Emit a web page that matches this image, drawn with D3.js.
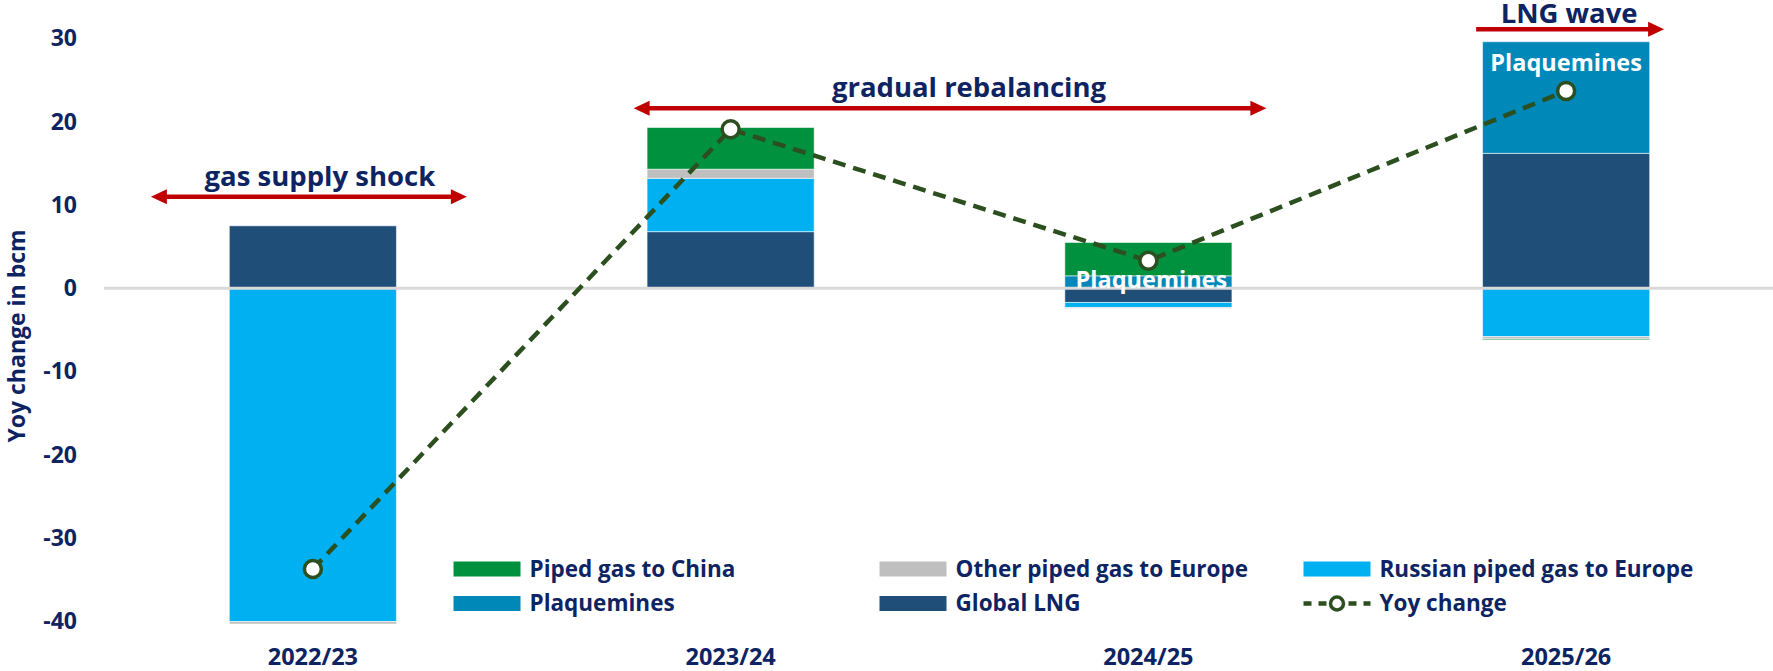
<!DOCTYPE html>
<html>
<head>
<meta charset="utf-8">
<script src="https://cdn.jsdelivr.net/npm/d3@7"></script>
<style>
  html, body { margin: 0; padding: 0; background: #ffffff; }
  svg { display: block; font-family: "Open Sans", "Noto Sans", sans-serif; font-weight: 700; }
</style>
</head>
<body>
<svg id="chart" width="1773" height="671"></svg>
<script>
// Gas year categories
const categories = ["2022/23", "2023/24", "2024/25", "2025/26"];

// Year-on-year supply changes by source, bcm
const globalLNG    = [7.5, 6.8, -1.7, 16.2];
const plaquemines  = [0, 0, 1.5, 13.4];
const russianPiped = [-40.0, 6.4, -0.6, -5.8];
const otherPiped   = [-0.3, 1.1, -0.12, -0.28];
const pipedChina   = [0, 5.0, 4.0, -0.12];

// Net year-on-year change, bcm
const yoyChange = [-33.7, 19.1, 3.3, 23.7];

// Y-axis ticks
const yTicks = [-40, -30, -20, -10, 0, 10, 20, 30];

// Series in stacking order (outward from zero)
const series = [
  { key: "Global LNG", values: globalLNG, color: "#1f4e79" },
  { key: "Plaquemines", values: plaquemines, color: "#0088b8" },
  { key: "Russian piped gas to Europe", values: russianPiped, color: "#00b0f0" },
  { key: "Other piped gas to Europe", values: otherPiped, color: "#bfbfbf" },
  { key: "Piped gas to China", values: pipedChina, color: "#00913f" }
];

// Legend layout order
const legendItems = [
  "Piped gas to China", "Other piped gas to Europe", "Russian piped gas to Europe",
  "Plaquemines", "Global LNG", "Yoy change"
];

const navy = "#0e2462";
const lineGreen = "#2c4f1f";
const arrowRed = "#c00000";

const svg = d3.select("#chart");

const x = d3.scaleBand()
  .domain(categories)
  .range([104, 1775])
  .paddingInner(0.6)
  .paddingOuter(0.3);

const y = d3.scaleLinear()
  .domain([-40, 30])
  .range([621.5, 38.4]);

// Build stacked table
const table = categories.map((c, i) => {
  const row = { cat: c };
  series.forEach(s => row[s.key] = s.values[i]);
  return row;
});
const stacked = d3.stack()
  .keys(series.map(s => s.key))
  .offset(d3.stackOffsetDiverging)(table);
const colorOf = Object.fromEntries(series.map(s => [s.key, s.color]));

// Bars
const barG = svg.append("g");
stacked.forEach(layer => {
  barG.selectAll(null)
    .data(layer)
    .join("rect")
    .attr("x", d => x(d.data.cat))
    .attr("width", x.bandwidth())
    .attr("y", d => y(Math.max(d[0], d[1])))
    .attr("height", d => Math.abs(y(d[0]) - y(d[1])))
    .attr("fill", colorOf[layer.key])
    .attr("stroke", "#ffffff")
    .attr("stroke-opacity", 0.55)
    .attr("stroke-width", 1);
});

// Zero line
svg.append("line")
  .attr("x1", x.range()[0]).attr("x2", x.range()[1])
  .attr("y1", y(0)).attr("y2", y(0))
  .attr("stroke", "#d9d9d9").attr("stroke-width", 3);

// Plaquemines segment labels
const plaqLayer = stacked.find(l => l.key === "Plaquemines");
plaqLayer.forEach(d => {
  const h = Math.abs(d[1] - d[0]);
  if (h === 0) return;
  const cx = x(d.data.cat) + x.bandwidth() / 2;
  const top = y(d[1]);
  const mid = (y(d[0]) + y(d[1])) / 2;
  svg.append("text")
    .attr("x", cx + (h > 5 ? 0 : 3))
    .attr("y", h > 5 ? top + 29 : mid + 6)
    .attr("text-anchor", "middle")
    .attr("font-size", 23.5)
    .attr("fill", "#ffffff")
    .text("Plaquemines");
});

// Y axis
const yAxis = svg.append("g")
  .attr("transform", `translate(${x.range()[0]},0)`)
  .call(d3.axisLeft(y).tickValues(yTicks).tickSize(0).tickPadding(27)
    .tickFormat(d => String(d)));
yAxis.select(".domain").remove();
yAxis.selectAll("text")
  .attr("font-family", "'Open Sans', sans-serif")
  .attr("font-weight", 700)
  .attr("font-size", 23)
  .attr("fill", navy);

// Category axis
const xAxis = svg.append("g")
  .attr("transform", `translate(0,${y(-40)})`)
  .call(d3.axisBottom(x).tickSize(0).tickPadding(0));
xAxis.select(".domain").remove();
xAxis.selectAll("text")
  .attr("y", 35)
  .attr("dy", "0.35em")
  .attr("font-family", "'Open Sans', sans-serif")
  .attr("font-weight", 700)
  .attr("font-size", 23.5)
  .attr("fill", navy);

// Y axis title
svg.append("text")
  .attr("transform", "translate(25,336) rotate(-90)")
  .attr("text-anchor", "middle")
  .attr("font-size", 23)
  .attr("fill", navy)
  .text("Yoy change in bcm");

// Yoy change line with markers
const line = d3.line()
  .x((d, i) => x(categories[i]) + x.bandwidth() / 2)
  .y(d => y(d));
svg.append("path")
  .datum(yoyChange)
  .attr("d", line)
  .attr("fill", "none")
  .attr("stroke", lineGreen)
  .attr("stroke-width", 4.5)
  .attr("stroke-dasharray", "13,8");
svg.selectAll(".yoy")
  .data(yoyChange)
  .join("circle")
  .attr("cx", (d, i) => x(categories[i]) + x.bandwidth() / 2)
  .attr("cy", d => y(d))
  .attr("r", 8.5)
  .attr("fill", "#ffffff")
  .attr("stroke", lineGreen)
  .attr("stroke-width", 3.5);

// Phase annotations with arrows
function arrow(x1, x2, yy, both) {
  const g = svg.append("g");
  const hl = 16, hw = 7.5;
  g.append("line")
    .attr("x1", both ? x1 + hl - 2 : x1).attr("x2", x2 - hl + 2)
    .attr("y1", yy).attr("y2", yy)
    .attr("stroke", arrowRed).attr("stroke-width", 4.5);
  g.append("path")
    .attr("d", `M${x2},${yy} L${x2 - hl},${yy - hw} L${x2 - hl},${yy + hw} Z`)
    .attr("fill", arrowRed);
  if (both) {
    g.append("path")
      .attr("d", `M${x1},${yy} L${x1 + hl},${yy - hw} L${x1 + hl},${yy + hw} Z`)
      .attr("fill", arrowRed);
  }
}
function caption(cx, yy, txt) {
  svg.append("text")
    .attr("x", cx).attr("y", yy)
    .attr("text-anchor", "middle")
    .attr("font-size", 27.5)
    .attr("fill", navy)
    .text(txt);
}
const cxOf = c => x(c) + x.bandwidth() / 2;

arrow(cxOf("2022/23") - 162, cxOf("2022/23") + 154, y(11.0), true);
caption(cxOf("2022/23") + 7, y(12.3), "gas supply shock");

arrow(cxOf("2023/24") - 97, cxOf("2024/25") + 118, y(21.6), true);
caption(969, y(23.0), "gradual rebalancing");

arrow(cxOf("2025/26") - 90, cxOf("2025/26") + 98, y(31.1), false);
caption(cxOf("2025/26") + 3, y(31.9), "LNG wave");

// Legend
const legendCols = [453.5, 879.5, 1303.5];
const legendRows = [569, 603.5];
legendItems.forEach((name, i) => {
  const lx = legendCols[i % 3];
  const ly = legendRows[Math.floor(i / 3)];
  const g = svg.append("g");
  if (name === "Yoy change") {
    g.append("line")
      .attr("x1", lx).attr("x2", lx + 67)
      .attr("y1", ly).attr("y2", ly)
      .attr("stroke", lineGreen).attr("stroke-width", 4.5)
      .attr("stroke-dasharray", "8,7");
    g.append("circle")
      .attr("cx", lx + 33.5).attr("cy", ly).attr("r", 6.5)
      .attr("fill", "#ffffff").attr("stroke", lineGreen).attr("stroke-width", 3.5);
  } else {
    g.append("rect")
      .attr("x", lx).attr("y", ly - 7.5)
      .attr("width", 67).attr("height", 15)
      .attr("fill", colorOf[name]);
  }
  g.append("text")
    .attr("x", lx + 76).attr("y", ly)
    .attr("dy", "0.35em")
    .attr("font-size", 22.5)
    .attr("fill", navy)
    .text(name);
});
</script>
</body>
</html>
